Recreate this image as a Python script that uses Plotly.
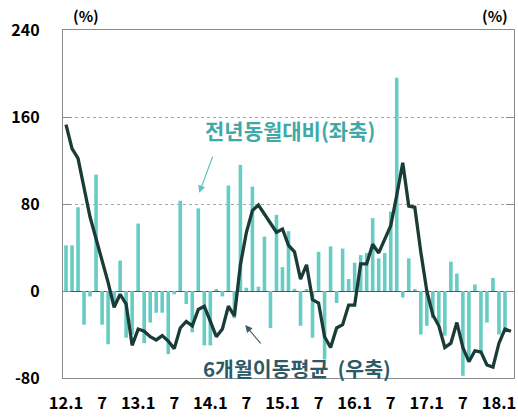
import plotly.graph_objects as go

# Months 2012.1 .. 2018.3
months = [f"{y}.{m}" for y in range(2012, 2019) for m in range(1, 13)][:75]

# Year-on-year change (%), left axis
yoy = [42, 42, 77, -31, -5, 107, -31, -49, -12, 28, -43, -40,
       62, -48, -29, -20, -20, -58, -3, 83, -12, -38, 76, -50,
       -50, 1, -5, 97, -25, 116, 3, 96, 4, 50, -34, 70,
       22, 55, 2, -32, 1, -43, 36, -63, 41, -11, 39, 11,
       26, 33, 35, 67, 30, 35, 73, 196, -6, 30, 1, -40,
       -32, -25, -30, -41, 27, 16, -78, -62, 6, -58, -29, 12,
       -40, -35, None]

# 6-month moving average (%), right axis
ma6 = [153, 131, 122, 95, 68, 48, 28, 8, -15, -3, -12, -50,
       -35, -37, -42, -45, -41, -46, -53, -34, -28, -32, -17, -14,
       -28, -42, -35, -14, -23, 24, 54, 74, 79, 71, 62, 54,
       57, 42, 36, 11, 24, -8, -11, -42, -52, -34, -31, -13,
       -13, 25, 25, 43, 35, 48, 60, 88, 118, 78, 77, 36,
       0, -22, -32, -52, -48, -29, -52, -65, -55, -56, -68, -70,
       -48, -35, -37]

tick_months = ["2012.1", "2012.7", "2013.1", "2013.7", "2014.1", "2014.7", "2015.1",
               "2015.7", "2016.1", "2016.7", "2017.1", "2017.7", "2018.1"]
tick_text = ["12.1", "7", "13.1", "7", "14.1", "7", "15.1", "7", "16.1", "7", "17.1", "7", "18.1"]
y_ticks = [-80, 0, 80, 160, 240]
y_tick_text = ["-80", "0", "80", "160", "240"]

BAR = "#66CCC4"
LINE = "#1B3B36"
FONT = "Noto Sans CJK KR"

fig = go.Figure()
fig.add_trace(go.Bar(x=months, y=yoy, marker=dict(color=BAR, line=dict(width=0)),
                     name="전년동월대비", yaxis="y"))
fig.add_trace(go.Scatter(x=months, y=ma6, mode="lines", line=dict(color=LINE, width=3.3),
                         name="6개월이동평균", yaxis="y2"))

fig.update_layout(
    width=518, height=420,
    margin=dict(l=63, r=4, t=30, b=42),
    paper_bgcolor="white", plot_bgcolor="white",
    showlegend=False, bargap=0.4,
    font=dict(family=FONT, color="black"),
    xaxis=dict(type="category", categoryorder="array", categoryarray=months,
               tickvals=tick_months, ticktext=tick_text, ticks="",
               tickfont=dict(size=16.5, family=FONT, weight="bold"),
               showline=True, linecolor="#8a8a8a", linewidth=1.2, mirror=True,
               showgrid=False, ticklabelstandoff=10, automargin=False),
    yaxis=dict(range=[-80, 240], tickvals=y_ticks, ticktext=y_tick_text,
               ticks="inside", ticklen=8,
               tickcolor="#8a8a8a", tickfont=dict(size=16, family=FONT, weight="bold"),
               showgrid=True, gridcolor="#a8a8a8", griddash="dot", gridwidth=1.2,
               zeroline=True, zerolinecolor="#555555", zerolinewidth=1.3,
               showline=True, linecolor="#8a8a8a", linewidth=1.2, mirror=True,
               ticklabelstandoff=19, automargin=False),
    yaxis2=dict(range=[-80, 240], tickvals=y_ticks, overlaying="y", side="right",
                showticklabels=False, ticks="inside", ticklen=8, tickcolor="#8a8a8a",
                showgrid=False, zeroline=False, showline=False, automargin=False),
)

fig.add_annotation(text="<b>(%)</b>", xref="paper", yref="paper", x=0.05, y=1.0,
                   xanchor="center", yanchor="bottom", yshift=2, showarrow=False,
                   font=dict(size=15, family=FONT, color="black"))
fig.add_annotation(text="<b>(%)</b>", xref="paper", yref="paper", x=0.958, y=1.0,
                   xanchor="center", yanchor="bottom", yshift=2, showarrow=False,
                   font=dict(size=15, family=FONT, color="black"))

fig.add_annotation(text="<b>전년동월대비(좌축)</b>", xref="paper", yref="paper",
                   x=0.503, y=0.713, xanchor="center", yanchor="middle", showarrow=False,
                   font=dict(size=21, family=FONT, color="#3FA9A6"))
fig.add_annotation(x=0.302, y=0.532, ax=0.333, ay=0.64,
                   xref="x domain", yref="y domain", axref="x domain", ayref="y domain",
                   showarrow=True, arrowhead=2,
                   arrowsize=1.2, arrowwidth=1.2, arrowcolor="#5CC4BE", text="")

fig.add_annotation(text="<b>6개월이동평균  (우축)</b>", xref="paper", yref="paper",
                   x=0.518, y=0.03, xanchor="center", yanchor="middle", showarrow=False,
                   font=dict(size=20.5, family=FONT, color="#2E5A66"))
fig.add_annotation(x=0.404, y=0.152, ax=0.441, ay=0.095,
                   xref="x domain", yref="y domain", axref="x domain", ayref="y domain",
                   showarrow=True, arrowhead=2,
                   arrowsize=1.2, arrowwidth=1.2, arrowcolor="#3D5F69", text="")

fig.write_html("out.html", config={"displayModeBar": False},
               post_script="document.body.style.margin='0';")
